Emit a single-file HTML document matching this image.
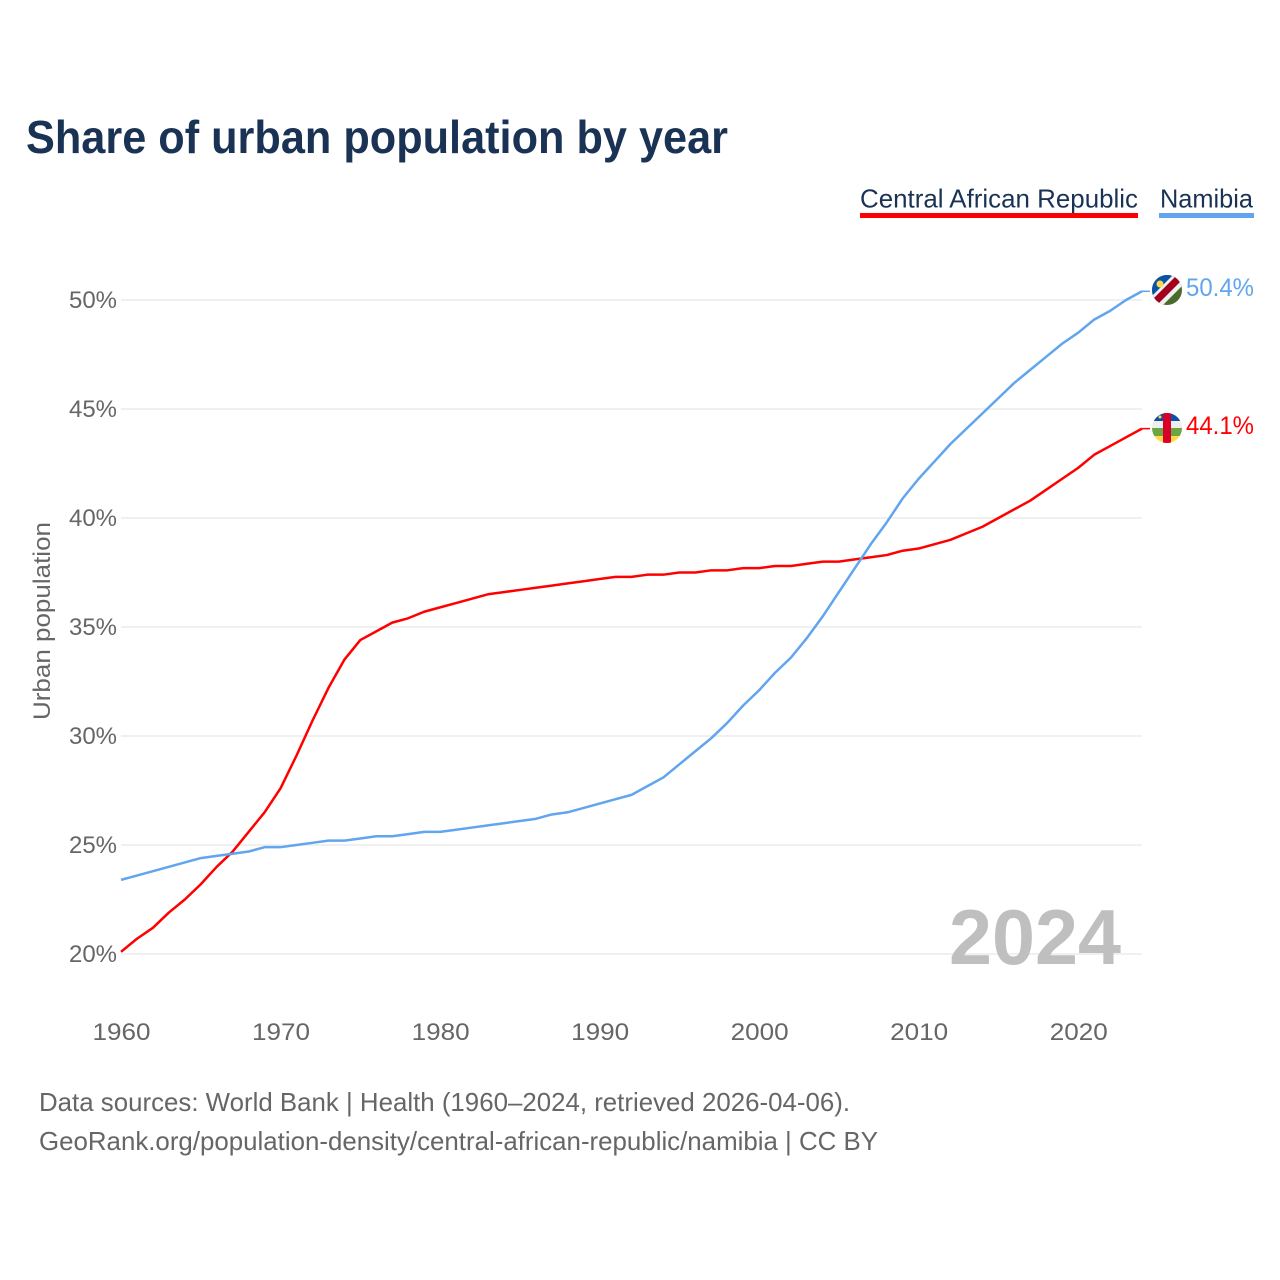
<!DOCTYPE html>
<html lang="en">
<head>
<meta charset="utf-8">
<title>Share of urban population by year</title>
<style>
html,body{margin:0;padding:0;background:#fff;}
svg{display:block;font-family:"Liberation Sans",Arial,sans-serif;}
</style>
</head>
<body>
<svg id="chart" xmlns="http://www.w3.org/2000/svg" width="1280" height="1280" viewBox="0 0 1280 1280">
  <defs>
    <clipPath id="clip-na"><circle cx="1167" cy="290" r="15"/></clipPath>
    <clipPath id="clip-cf"><circle cx="1167" cy="428" r="15"/></clipPath>
  </defs>
  <rect x="0" y="0" width="1280" height="1280" fill="#ffffff"/>
  <text x="26" y="153" font-size="46" font-weight="700" fill="#1a3355" textLength="702" lengthAdjust="spacingAndGlyphs">Share of urban population by year</text>

  <g>
    <g>
      <text x="860" y="207.5" font-size="26" fill="#1a3355" textLength="278" lengthAdjust="spacingAndGlyphs">Central African Republic</text>
      <rect x="860" y="213" width="278" height="5" fill="#ff0000"/>
    </g>
    <g>
      <text x="1160" y="207.5" font-size="26" fill="#1a3355" textLength="93" lengthAdjust="spacingAndGlyphs">Namibia</text>
      <rect x="1159" y="213" width="95" height="5" fill="#60a5ee"/>
    </g>
  </g>

  <g id="grid"></g>
  <g id="y-ticks"></g>
  <g id="x-ticks"></g>
  <text transform="translate(50,720) rotate(-90)" font-size="24" fill="#666666" textLength="198" lengthAdjust="spacingAndGlyphs">Urban population</text>

  <text x="949" y="964" font-size="78" font-weight="700" fill="#bfbfbf" textLength="172" lengthAdjust="spacingAndGlyphs">2024</text>

  <g id="series"></g>

  <g clip-path="url(#clip-na)">
    <rect x="1152" y="275" width="30" height="30" fill="#4a6b2c"/>
    <polygon points="1152,275 1182,275 1152,305" fill="#0a52a8"/>
    <polygon points="1150,298 1175,273 1186,282 1159,309" fill="#f0f0f0"/>
    <polygon points="1151,301 1178,274 1183,279 1156,306" fill="#a2001d"/>
    <circle cx="1160" cy="284" r="3.5" fill="#ffda44"/>
  </g>
  <text x="1186" y="296" font-size="25" fill="#60a5ee" textLength="68" lengthAdjust="spacingAndGlyphs">50.4%</text>

  <g clip-path="url(#clip-cf)">
    <rect x="1152" y="413" width="30" height="8" fill="#0a52a8"/>
    <rect x="1152" y="421" width="30" height="7" fill="#eeeeee"/>
    <rect x="1152" y="428" width="30" height="8" fill="#6da544"/>
    <rect x="1152" y="436" width="30" height="7" fill="#ffda44"/>
    <rect x="1163" y="413" width="8" height="30" fill="#d80027"/>
    <circle cx="1160" cy="417" r="1.5" fill="#ffda44"/>
  </g>
  <text x="1186" y="434" font-size="25" fill="#ff0000" textLength="68" lengthAdjust="spacingAndGlyphs">44.1%</text>

  <text x="39" y="1111" font-size="26" fill="#666666" textLength="811" lengthAdjust="spacingAndGlyphs">Data sources: World Bank | Health (1960–2024, retrieved 2026-04-06).</text>
  <text x="39" y="1150" font-size="26" fill="#666666" textLength="839" lengthAdjust="spacingAndGlyphs">GeoRank.org/population-density/central-african-republic/namibia | CC BY</text>
</svg>

<script>
const startYear = 1960;
const carValues = [20.1,20.7,21.2,21.9,22.5,23.2,24.0,24.7,25.6,26.5,27.6,29.1,30.7,32.2,33.5,34.4,34.8,35.2,35.4,35.7,35.9,36.1,36.3,36.5,36.6,36.7,36.8,36.9,37.0,37.1,37.2,37.3,37.3,37.4,37.4,37.5,37.5,37.6,37.6,37.7,37.7,37.8,37.8,37.9,38.0,38.0,38.1,38.2,38.3,38.5,38.6,38.8,39.0,39.3,39.6,40.0,40.4,40.8,41.3,41.8,42.3,42.9,43.3,43.7,44.1];
const namibiaValues = [23.4,23.6,23.8,24.0,24.2,24.4,24.5,24.6,24.7,24.9,24.9,25.0,25.1,25.2,25.2,25.3,25.4,25.4,25.5,25.6,25.6,25.7,25.8,25.9,26.0,26.1,26.2,26.4,26.5,26.7,26.9,27.1,27.3,27.7,28.1,28.7,29.3,29.9,30.6,31.4,32.1,32.9,33.6,34.5,35.5,36.6,37.7,38.8,39.8,40.9,41.8,42.6,43.4,44.1,44.8,45.5,46.2,46.8,47.4,48.0,48.5,49.1,49.5,50.0,50.4];
const yTickValues = [20,25,30,35,40,45,50];
const xTickValues = [1960,1970,1980,1990,2000,2010,2020];

const NS = 'http://www.w3.org/2000/svg';
function xScale(year){ return 121 + (year - 1960) * (1142 - 121) / 64; }
function yScale(v){ return 954 - (v - 20) * (954 - 300) / 30; }
function make(tag, attrs, parent){
  const el = document.createElementNS(NS, tag);
  for (const k in attrs) el.setAttribute(k, attrs[k]);
  parent.appendChild(el);
  return el;
}
const grid = document.getElementById('grid');
const yTicks = document.getElementById('y-ticks');
const xTicks = document.getElementById('x-ticks');
const series = document.getElementById('series');

yTickValues.forEach(function(v){
  const line = make('line', {x1:121, x2:1142, y1:yScale(v), y2:yScale(v), stroke:'#f0f0f0', 'stroke-width':2}, grid);
  
  
  const label = make('text', {x:117, y:yScale(v)+8, 'text-anchor':'end', 'font-size':24, fill:'#666666', textLength:48, lengthAdjust:'spacingAndGlyphs'}, yTicks);
  label.textContent = v + '%';
  
  
});
xTickValues.forEach(function(y){
  const label = make('text', {x:xScale(y) + 0.5, y:1040, 'text-anchor':'middle', 'font-size':24, fill:'#666666', textLength:58, lengthAdjust:'spacingAndGlyphs'}, xTicks);
  label.textContent = String(y);
  
  
});
function drawLine(values, color, name){
  const pts = values.map(function(v, i){ return xScale(startYear + i).toFixed(2) + ',' + yScale(v).toFixed(2); });
  const path = make('polyline', {points:pts.join(' '), fill:'none', stroke:color, 'stroke-width':2.5, 'stroke-linejoin':'round'}, series);
  
  
  const last = values[values.length - 1];
  const endX = xScale(startYear + values.length - 1);
  const connector = make('line', {x1:endX, x2:endX + 8, y1:yScale(last), y2:yScale(last), stroke:color, 'stroke-width':1.5}, series);
  
  
}
drawLine(carValues, '#ff0000', 'line-central-african-republic');
drawLine(namibiaValues, '#60a5ee', 'line-namibia');
</script>
</body>
</html>
